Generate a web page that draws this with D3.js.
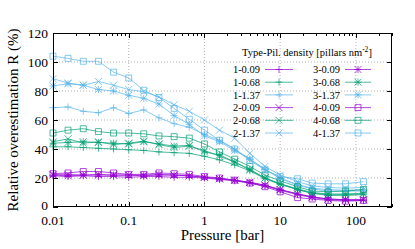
<!DOCTYPE html>
<html><head><meta charset="utf-8">
<script src="https://cdn.jsdelivr.net/npm/d3@7"></script>
<style>
html,body{margin:0;padding:0;background:#fff;}
svg{display:block;font-family:"Liberation Serif","Times New Roman",serif;}
</style></head>
<body><svg id="c" width="415" height="249"></svg>
<script>
// ---- data ----
const pressure = [0.01, 0.0158, 0.0251, 0.0398, 0.0631, 0.1, 0.158, 0.251, 0.398, 0.631, 1, 1.58, 2.51, 3.98, 6.31, 10, 17, 26.5, 43, 73, 126];
const seriesNames = ["1-0.09","1-0.68","1-1.37","2-0.09","2-0.68","2-1.37","3-0.09","3-0.68","3-1.37","4-0.09","4-0.68","4-1.37"];
const s1_009 = [21.5, 21, 21.5, 21, 21, 20.5, 21, 21, 20.5, 20.5, 20, 19, 18, 16.5, 14.5, 11.5, 8.5, 6.5, 5, 4.5, 4.5];
const s1_068 = [41.5, 41.5, 41, 40.5, 40, 39.5, 39, 38, 37.5, 37, 35, 32.5, 29, 25, 19.5, 15.5, 12, 9.5, 8, 8, 8.5];
const s1_137 = [68.5, 69, 66, 65, 68.5, 64.5, 67, 61.5, 57.5, 55, 50, 46, 40, 33, 26, 19.5, 15, 12.5, 11, 11, 11];
const s2_009 = [22.5, 22.5, 22, 22.5, 22, 22, 21.5, 22, 22, 21.5, 20.5, 19.5, 18.5, 17, 15, 12, 9, 7, 5.5, 5, 5];
const s2_068 = [45, 47, 44, 45, 43, 44, 45.5, 43, 41, 42, 39, 35, 31, 25.5, 20, 16, 12, 9.5, 8.5, 8.5, 9];
const s2_137 = [88.5, 85.5, 84, 86.5, 84, 81, 79.5, 76, 70.5, 66, 60, 53, 47.5, 37, 28, 22, 17.5, 14.5, 13.5, 13, 13.5];
const s3_009 = [22, 21.5, 22, 22, 22, 22, 22, 22.5, 22, 21.5, 20.5, 19.5, 18.5, 17, 15, 12, 9, 7, 5.5, 5, 5];
const s3_068 = [44, 44.5, 45, 44.5, 44, 43.5, 45, 43.5, 42, 42.5, 38, 36, 31, 26, 20, 16, 12.5, 10, 9, 9, 9.5];
const s3_137 = [83.5, 85, 84, 81, 80, 77, 75, 71, 63, 57, 49, 45, 39, 33, 26, 20, 15.5, 13, 12, 11.5, 12];
const s4_009 = [23, 23.5, 24.5, 24.5, 23.5, 22.5, 22.5, 23.5, 23, 22.5, 21, 20, 18.5, 16.5, 14, 10.5, 6.5, 5.5, 4.5, 4, 4.5];
const s4_068 = [51, 53, 54, 52, 51, 51, 50.5, 49, 48.5, 47.5, 43.5, 38, 33, 28, 22, 18, 14, 11, 10.5, 11, 12];
const s4_137 = [104, 102.5, 100.5, 100.5, 93, 89, 80.5, 75.5, 68, 60.5, 53, 46, 40, 32, 25.5, 21, 19.5, 16.5, 16, 16, 17.5];
const seriesValues = [s1_009, s1_068, s1_137, s2_009, s2_068, s2_137, s3_009, s3_068, s3_137, s4_009, s4_068, s4_137];
const xTicks = [0.01, 0.1, 1, 10, 100];
const xTickLabels = ["0.01", "0.1", "1", "10", "100"];
const yTicks = [0, 20, 40, 60, 80, 100, 120];
const densityColors = {"0.09": "#9400d3", "0.68": "#009e73", "1.37": "#56b4e9"};
const typeMarkers = {"1": "plus", "2": "cross", "3": "star", "4": "square"};

// ---- layout ----
const L = 53, R = 392, T = 33, B = 207;
const svg = d3.select("#c");
const x = d3.scaleLog().domain([0.01, 300]).range([L, R]);
const y = d3.scaleLinear().domain([0, 120]).range([B, T]);

// grid
const grid = svg.append("g").attr("stroke", "#a0a0a0").attr("stroke-width", 0.8).attr("stroke-dasharray", "1,2");
xTicks.forEach(v => { if (v > 0.01) grid.append("line").attr("x1", x(v)).attr("x2", x(v)).attr("y1", T).attr("y2", B); });
yTicks.forEach(v => { if (v > 0 && v < 120) grid.append("line").attr("x1", L).attr("x2", R).attr("y1", y(v)).attr("y2", y(v)); });

// ticks (inward, mirrored)
const tk = svg.append("g").attr("stroke", "#000").attr("stroke-width", 1);
const minor = [];
for (let d = -2; d <= 2; d++) for (let m = 2; m <= 9; m++) { const v = m * Math.pow(10, d); if (v <= 300) minor.push(v); }
minor.forEach(v => {
  const px = Math.round(x(v)) + 0.5;
  tk.append("line").attr("x1", px).attr("x2", px).attr("y1", B).attr("y2", B - 3);
  tk.append("line").attr("x1", px).attr("x2", px).attr("y1", T).attr("y2", T + 3);
});
xTicks.forEach(v => {
  const px = Math.round(x(v)) + 0.5;
  tk.append("line").attr("x1", px).attr("x2", px).attr("y1", B).attr("y2", B - 5);
  tk.append("line").attr("x1", px).attr("x2", px).attr("y1", T).attr("y2", T + 5);
});
yTicks.forEach(v => {
  const py = Math.round(y(v)) + 0.5;
  tk.append("line").attr("x1", L).attr("x2", L + 5).attr("y1", py).attr("y2", py);
  tk.append("line").attr("x1", R).attr("x2", R - 5).attr("y1", py).attr("y2", py);
});

// tick labels
const lab = svg.append("g").attr("font-size", 13.5).attr("fill", "#000");
xTicks.forEach((v, i) => lab.append("text").attr("x", x(v)).attr("y", B + 18).attr("text-anchor", "middle").text(xTickLabels[i]));
yTicks.forEach(v => lab.append("text").attr("x", L - 5).attr("y", y(v) + (v === 0 ? 3 : 4.5)).attr("text-anchor", "end").text(v));

// axis titles
svg.append("text").attr("x", (L + R) / 2).attr("y", 240).attr("text-anchor", "middle").attr("font-size", 15).text("Pressure [bar]");
svg.append("text").attr("transform", `translate(18,${(T + B) / 2}) rotate(-90)`).attr("text-anchor", "middle").attr("font-size", 15).text("Relative overestimation R (%)");

// markers
function markerPath(type, cx, cy, s) {
  const p = d3.path();
  if (type === "plus" || type === "star") { p.moveTo(cx - s, cy); p.lineTo(cx + s, cy); p.moveTo(cx, cy - s); p.lineTo(cx, cy + s); }
  if (type === "cross" || type === "star") { p.moveTo(cx - s, cy - s); p.lineTo(cx + s, cy + s); p.moveTo(cx - s, cy + s); p.lineTo(cx + s, cy - s); }
  if (type === "square") { p.rect(cx - s * 0.85, cy - s * 0.85, s * 1.7, s * 1.7); }
  return p.toString();
}

const alpha = 0.7;
const line = d3.line().x((d, i) => x(pressure[i])).y(d => y(d));
const plot = svg.append("g");
seriesNames.forEach((name, k) => {
  const [tp, dens] = name.split("-");
  const col = densityColors[dens];
  const g = plot.append("g").attr("fill", "none").attr("stroke", col).attr("stroke-width", 1);
  g.append("path").attr("d", line(seriesValues[k])).attr("stroke-opacity", alpha);
  seriesValues[k].forEach((v, i) => {
    g.append("path").attr("d", markerPath(typeMarkers[tp], x(pressure[i]), y(v), 3.5)).attr("stroke-opacity", alpha);
  });
});

// frame
svg.append("rect").attr("x", L + 0.5).attr("y", T + 0.5).attr("width", R - L - 1).attr("height", B - T - 1).attr("fill", "none").attr("stroke", "#000").attr("stroke-width", 1);

// legend
const lg = svg.append("g").attr("font-size", 10.5);
const title = lg.append("text").attr("x", 307).attr("y", 55.5).attr("text-anchor", "middle");
title.append("tspan").text("Type-Pil. density [pillars nm");
title.append("tspan").attr("font-size", 7.5).attr("dy", -4).text("-2");
title.append("tspan").attr("dy", 4).text("]");
const cols = [{lx: 260, x1: 265, x2: 293}, {lx: 340, x1: 345, x2: 371}];
const rowY = [69.5, 82.2, 94.9, 107.6, 120.3, 133];
seriesNames.forEach((name, k) => {
  const c = cols[k < 6 ? 0 : 1];
  const ry = rowY[k % 6];
  const [tp, dens] = name.split("-");
  const col = densityColors[dens];
  lg.append("text").attr("x", c.lx).attr("y", ry + 3.7).attr("text-anchor", "end").text(name);
  const g = lg.append("g").attr("fill", "none").attr("stroke", col).attr("stroke-width", 1);
  g.append("line").attr("x1", c.x1).attr("x2", c.x2).attr("y1", ry).attr("y2", ry).attr("stroke-opacity", alpha);
  g.append("path").attr("d", markerPath(typeMarkers[tp], (c.x1 + c.x2) / 2, ry, 3.5)).attr("stroke-opacity", alpha);
});
</script></body></html>
